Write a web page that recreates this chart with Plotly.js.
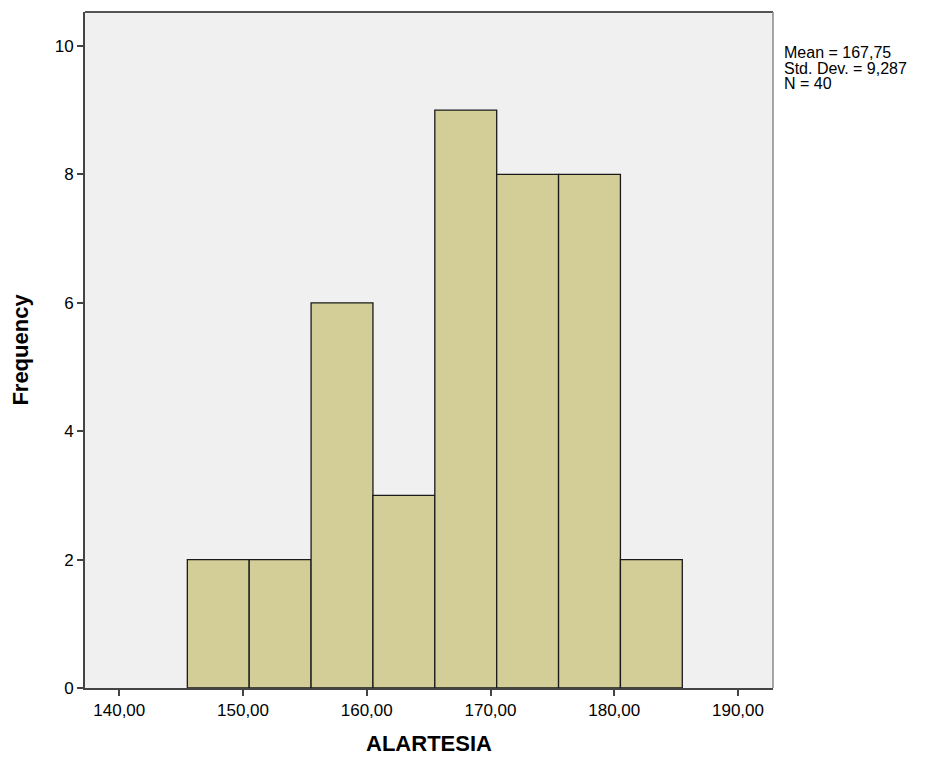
<!DOCTYPE html>
<html>
<head>
<meta charset="utf-8">
<script src="https://cdn.plot.ly/plotly-3.0.1.min.js"></script>
<style>html,body{margin:0;padding:0;background:#fff;}#chart{width:929px;height:757px;}</style>
</head>
<body>
<div id="chart"></div>
<script>
// Histogram bins (lower edge, upper edge) and frequencies
var binStarts = [145.5, 150.5, 155.5, 160.5, 165.5, 170.5, 175.5, 180.5];
var binWidth = 5;
var frequencies = [2, 2, 6, 3, 9, 8, 8, 2];
var xTickVals = [140, 150, 160, 170, 180, 190];
var xTickText = ["140,00", "150,00", "160,00", "170,00", "180,00", "190,00"];
var yTickVals = [0, 2, 4, 6, 8, 10];
var statsLines = ["Mean = 167,75", "Std. Dev. = 9,287", "N = 40"];

var centers = binStarts.map(function (s) { return s + binWidth / 2; });

var trace = {
  type: 'bar',
  x: centers,
  y: frequencies,
  width: binStarts.map(function () { return binWidth; }),
  marker: { color: '#d3ce97', line: { color: '#1a1a1a', width: 1.3 } },
  hoverinfo: 'x+y'
};

var font = 'Arial, "Liberation Sans", sans-serif';

// one text block: line spacing follows the 12px base font, glyphs drawn larger
var statsText = statsLines.map(function (t) {
  return '<span style="font-size:16px">' + t + '</span>';
}).join('<br>');

var layout = {
  width: 929, height: 757,
  margin: { l: 85, r: 156, t: 12, b: 69 },
  paper_bgcolor: '#ffffff',
  plot_bgcolor: '#f0f0f0',
  showlegend: false,
  bargap: 0,
  font: { family: font, size: 17, color: '#000' },
  xaxis: {
    range: [137.23, 192.83],
    tickvals: xTickVals, ticktext: xTickText,
    ticks: 'outside', ticklen: 6, tickwidth: 2, tickcolor: '#444',
    showgrid: false, zeroline: false,
    showline: true, linecolor: '#444', linewidth: 2, mirror: false,
    tickfont: { family: font, size: 17, color: '#000' },
    title: { text: '<b>ALARTESIA</b>', font: { family: font, size: 22, color: '#000' }, standoff: 16 }
  },
  yaxis: {
    range: [0, 10.53],
    tickvals: yTickVals,
    ticks: 'outside', ticklen: 6, tickwidth: 2, tickcolor: '#444',
    showgrid: false, zeroline: false,
    showline: true, linecolor: '#444', linewidth: 2,
    tickfont: { family: font, size: 17, color: '#000' },
    title: { text: '<b>Frequency</b>', font: { family: font, size: 22, color: '#000' }, standoff: 20 }
  },
  shapes: [
    { type: 'line', xref: 'paper', yref: 'paper', x0: 0, x1: 1, y0: 1, y1: 1, line: { color: '#555', width: 2 } },
    { type: 'line', xref: 'paper', yref: 'paper', x0: 1, x1: 1, y0: 0, y1: 1, line: { color: '#888', width: 1.5 } }
  ],
  annotations: [{
    xref: 'paper', yref: 'paper',
    x: 1.013, y: 0.955,
    xanchor: 'left', yanchor: 'top', align: 'left',
    text: statsText, showarrow: false,
    font: { family: font, size: 12, color: '#000' }
  }]
};

Plotly.newPlot('chart', [trace], layout, { displayModeBar: false, staticPlot: true });
</script>
</body>
</html>
